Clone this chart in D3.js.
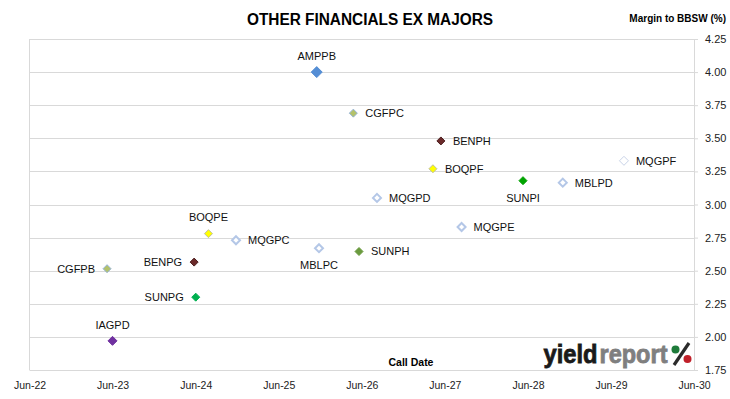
<!DOCTYPE html>
<html>
<head>
<meta charset="utf-8">
<script src="https://cdn.jsdelivr.net/npm/d3@7"></script>
<style>
  body { margin: 0; background: #fff; }
  text { font-family: "Liberation Sans", Arial, sans-serif; }
</style>
</head>
<body>
<div id="chart"></div>
<script>
// securities, call dates and margins
var codes = ["AMPPB", "CGFPC", "BENPH", "BOQPF", "SUNPI", "MBLPD", "MQGPF", "MQGPD", "SUNPH",
  "MQGPE", "BOQPE", "MQGPC", "MBLPC", "BENPG", "CGFPB", "SUNPG", "IAGPD"];
var callDates = ["2025-11-15", "2026-04-25", "2027-05-15", "2027-04-10", "2028-05-10", "2028-11-01",
  "2029-07-28", "2026-08-07", "2026-05-20", "2027-08-14", "2024-07-27", "2024-11-25", "2025-11-25",
  "2024-05-25", "2023-05-08", "2024-06-01", "2023-06-01"];
var margins = [4.00, 3.69, 3.48, 3.27, 3.18, 3.165, 3.33, 3.05, 2.645, 2.83, 2.78, 2.73, 2.67,
  2.565, 2.515, 2.30, 1.97];
var labelSide = ["top", "right", "right", "right", "bottom", "right", "right", "right", "right",
  "right", "top", "right", "bottom", "left", "left", "left", "top"];
var yTicks = [1.75, 2.00, 2.25, 2.50, 2.75, 3.00, 3.25, 3.50, 3.75, 4.00, 4.25];
var xTicks = ["2022-06-01", "2023-06-01", "2024-06-01", "2025-06-01", "2026-06-01",
  "2027-06-01", "2028-06-01", "2029-06-01", "2030-06-01"];

// marker look per issuer
var hollow = { fill: "#fff", stroke: "#B4C7E7", sw: 2, r: 4 };
var markerStyle = {
  AMPPB: { fill: "#558ED5", stroke: "#558ED5", sw: 1, r: 5.5 },
  CGFPC: { fill: "#B3C26B", stroke: "#95B3D7", sw: 1, r: 4 },
  CGFPB: { fill: "#B3C26B", stroke: "#95B3D7", sw: 1, r: 4 },
  BENPH: { fill: "#6B2A2A", stroke: "#4A1C1C", sw: 1, r: 4 },
  BENPG: { fill: "#6B2A2A", stroke: "#4A1C1C", sw: 1, r: 4 },
  BOQPF: { fill: "#FFFF00", stroke: "#BFBF9F", sw: 1, r: 4 },
  BOQPE: { fill: "#FFFF00", stroke: "#BFBF9F", sw: 1, r: 4 },
  SUNPI: { fill: "#00A300", stroke: "#00A300", sw: 1, r: 4 },
  SUNPG: { fill: "#00B050", stroke: "#00B050", sw: 1, r: 4 },
  SUNPH: { fill: "#6A9A3E", stroke: "#6A9A3E", sw: 1, r: 4 },
  IAGPD: { fill: "#7030A0", stroke: "#7030A0", sw: 1, r: 4.5 },
  MQGPF: { fill: "#fff", stroke: "#C9D3E8", sw: 1, r: 4.5 },
  MBLPD: hollow, MQGPD: hollow, MQGPE: hollow, MQGPC: hollow, MBLPC: hollow
};

var W = 730, H = 399;
var plot = { left: 29.5, right: 694, top: 39, bottom: 370 };
var parseDate = d3.timeParse("%Y-%m-%d");

var data = codes.map(function (c, i) {
  return { code: c, date: parseDate(callDates[i]), margin: margins[i], side: labelSide[i] };
});

var svg = d3.select("#chart").append("svg").attr("width", W).attr("height", H);

var xScale = d3.scaleTime()
  .domain([parseDate(xTicks[0]), parseDate(xTicks[xTicks.length - 1])])
  .range([plot.left, plot.right]);
var yScale = d3.scaleLinear().domain([1.75, 4.25]).range([plot.bottom, plot.top]);

// horizontal gridlines
svg.append("g").selectAll("line").data(yTicks).enter().append("line")
  .attr("x1", plot.left).attr("x2", plot.right)
  .attr("y1", function (d) { return Math.round(yScale(d)) + 0.5; })
  .attr("y2", function (d) { return Math.round(yScale(d)) + 0.5; })
  .attr("stroke", "#D9D9D9").attr("stroke-width", 1);

// left frame line
svg.append("line")
  .attr("x1", plot.left).attr("x2", plot.left)
  .attr("y1", plot.top).attr("y2", plot.bottom)
  .attr("stroke", "#D9D9D9");

// y axis on the right
var yAxis = d3.axisRight(yScale).tickValues(yTicks).tickSize(4).tickPadding(7)
  .tickFormat(d3.format(".2f"));
var gy = svg.append("g").attr("transform", "translate(" + plot.right + ",0)").call(yAxis);
gy.select(".domain").attr("stroke", "#D9D9D9");
gy.selectAll(".tick line").attr("stroke", "#D9D9D9");
gy.selectAll(".tick text").style("font-size", "11px").attr("fill", "#222")
  .style("font-family", "'Liberation Sans', Arial, sans-serif");

// x axis
var xAxis = d3.axisBottom(xScale)
  .tickValues(xTicks.map(parseDate)).tickSize(0).tickPadding(12)
  .tickFormat(d3.timeFormat("%b-%y"));
var gx = svg.append("g").attr("transform", "translate(0," + plot.bottom + ")").call(xAxis);
gx.select(".domain").remove();
gx.selectAll(".tick text").style("font-size", "10.5px").attr("fill", "#222")
  .style("font-family", "'Liberation Sans', Arial, sans-serif");

// diamonds
var diamond = function (r) {
  return "M0," + (-r) + "L" + r + ",0L0," + r + "L" + (-r) + ",0Z";
};
svg.append("g").selectAll("path").data(data).enter().append("path")
  .attr("transform", function (d) {
    return "translate(" + xScale(d.date) + "," + yScale(d.margin) + ")";
  })
  .attr("d", function (d) { return diamond(markerStyle[d.code].r); })
  .attr("fill", function (d) { return markerStyle[d.code].fill; })
  .attr("stroke", function (d) { return markerStyle[d.code].stroke; })
  .attr("stroke-width", function (d) { return markerStyle[d.code].sw; });

// point labels
svg.append("g").selectAll("text").data(data).enter().append("text")
  .attr("x", function (d) {
    var x = xScale(d.date);
    if (d.side === "right") return x + 12;
    if (d.side === "left") return x - 12;
    return x;
  })
  .attr("y", function (d) {
    var y = yScale(d.margin);
    if (d.side === "top") return y - 16;
    if (d.side === "bottom") return y + 17;
    return y;
  })
  .attr("dy", "0.35em")
  .attr("text-anchor", function (d) {
    if (d.side === "right") return "start";
    if (d.side === "left") return "end";
    return "middle";
  })
  .style("font-size", "11px")
  .attr("fill", "#111")
  .text(function (d) { return d.code; });

// titles
svg.append("text")
  .attr("x", 370).attr("y", 25)
  .attr("text-anchor", "middle")
  .attr("textLength", 246).attr("lengthAdjust", "spacingAndGlyphs")
  .style("font-size", "16px").style("font-weight", "bold")
  .text("OTHER FINANCIALS EX MAJORS");

svg.append("text")
  .attr("x", 726).attr("y", 22)
  .attr("text-anchor", "end")
  .style("font-size", "10px").style("font-weight", "bold")
  .text("Margin to BBSW (%)");

svg.append("text")
  .attr("x", 411).attr("y", 366)
  .attr("text-anchor", "middle")
  .style("font-size", "10.5px").style("font-weight", "bold")
  .text("Call Date");

// yieldreport logo
var logo = svg.append("g");
logo.append("text")
  .attr("x", 543.5).attr("y", 363)
  .style("font-size", "26px").style("font-weight", "bold")
  .attr("textLength", 54).attr("lengthAdjust", "spacingAndGlyphs")
  .attr("fill", "#1A1A1A").attr("stroke", "#1A1A1A").attr("stroke-width", 0.8)
  .text("yield");
logo.append("text")
  .attr("x", 599.5).attr("y", 363)
  .style("font-size", "26px").style("font-weight", "bold")
  .attr("textLength", 68).attr("lengthAdjust", "spacingAndGlyphs")
  .attr("fill", "#7F7F7F").attr("stroke", "#7F7F7F").attr("stroke-width", 0.8)
  .text("report");
logo.append("line")
  .attr("x1", 674).attr("y1", 365).attr("x2", 689).attr("y2", 343)
  .attr("stroke", "#2B2B2B").attr("stroke-width", 3.2);
logo.append("circle").attr("cx", 675.5).attr("cy", 349.5).attr("r", 4)
  .attr("fill", "#1E7B3A");
logo.append("circle").attr("cx", 687.5).attr("cy", 359).attr("r", 4)
  .attr("fill", "#C0202A");
</script>
</body>
</html>
